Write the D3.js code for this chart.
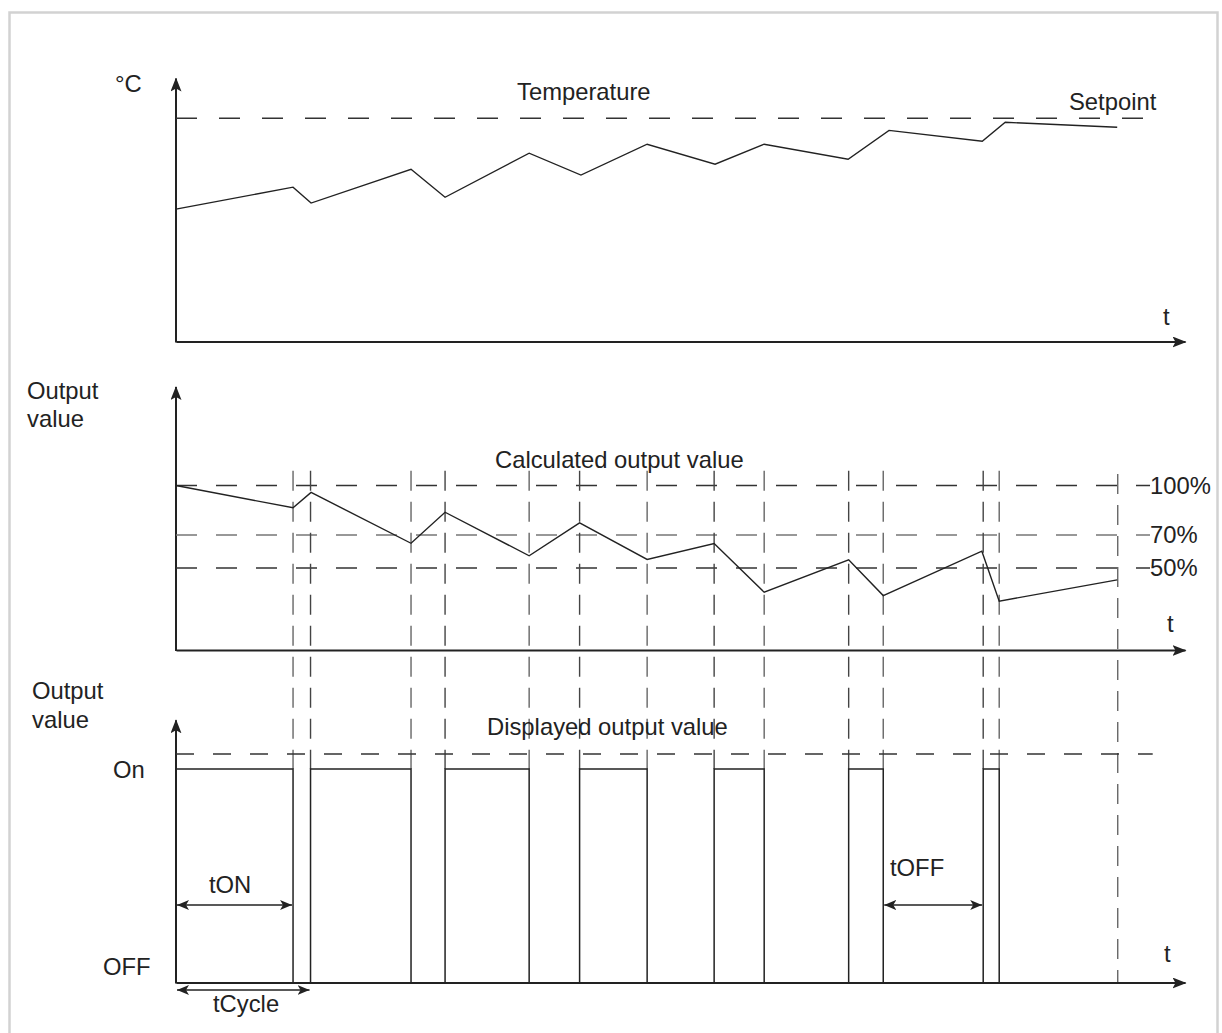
<!DOCTYPE html>
<html lang="en">
<head>
  <meta charset="UTF-8">
  <title>PWM output value</title>
  <script src="https://cdn.jsdelivr.net/npm/d3@7"></script>
  <style>
    body { margin: 0; background: #fff; }
    svg text { font-family: "Liberation Sans", Arial, sans-serif; font-size: 23.8px; fill: #222; }
    .axis .domain { stroke: #222; stroke-width: 2; }
  </style>
</head>
<body>
<svg id="chart" width="1222" height="1033"></svg>
<script>
  // time in s, one cycle = 10 s
  const onStarts = [0, 10, 20, 30, 40, 50, 60];
  const onEnds = [8.7, 17.47, 26.25, 35.02, 43.72, 52.57, 61.19];
  const endTime = 70;

  // temperature curve (°C)
  const setpoint = 25;
  const tempTimes = [0, 8.7, 10.04, 17.47, 20, 26.25, 30.1, 35.02, 40.07, 43.72, 49.96, 53.0, 59.93, 61.64, 69.96];
  const tempValues = [20.94, 21.92, 21.21, 22.72, 21.47, 23.44, 22.46, 23.84, 22.95, 23.84, 23.17, 24.46, 23.97, 24.82, 24.6];

  // calculated output value (%)
  const outTimes = [0, 8.7, 10.04, 17.47, 20, 26.25, 30, 35.02, 40, 43.72, 50, 52.57, 59.9, 61.19, 69.96];
  const outValues = [100, 86.5, 95.8, 65.0, 83.8, 57.4, 77.4, 55.2, 64.8, 35.3, 55.0, 33.3, 60.2, 29.9, 42.8];
  const levelValues = [100, 70, 50];
  const levelLabels = ["100%", "70%", "50%"];

  const svg = d3.select("#chart");
  const ink = "#222";

  // frame
  svg.append("rect")
    .attr("x", 9.5).attr("y", 12.5)
    .attr("width", 1208).attr("height", 1060)
    .attr("fill", "none").attr("stroke", "#d2d2d2").attr("stroke-width", 2.5);

  const defs = svg.append("defs");
  defs.append("marker")
    .attr("id", "axisArrow")
    .attr("markerUnits", "userSpaceOnUse")
    .attr("viewBox", "0 0 14 11")
    .attr("refX", 13).attr("refY", 5.5)
    .attr("markerWidth", 14).attr("markerHeight", 11)
    .attr("orient", "auto")
    .append("path").attr("d", "M0,0L14,5.5L0,11L3,5.5Z").attr("fill", ink);
  defs.append("marker")
    .attr("id", "dimArrow")
    .attr("markerUnits", "userSpaceOnUse")
    .attr("viewBox", "0 0 12 10")
    .attr("refX", 12).attr("refY", 5)
    .attr("markerWidth", 12).attr("markerHeight", 10)
    .attr("orient", "auto-start-reverse")
    .append("path").attr("d", "M0,0L12,5L0,10L3,5Z").attr("fill", ink);

  const x = d3.scaleLinear().domain([0, 75]).range([176, 1185]);
  const yT = d3.scaleLinear().domain([15, 26.8]).range([342, 78]);
  const yO = d3.scaleLinear().domain([0, 160]).range([650.5, 386.5]);
  const yB = d3.scaleLinear().domain([0, 1.23]).range([983, 719.8]);

  function drawAxes(yScale, y0) {
    svg.append("g").attr("class", "axis")
      .attr("transform", `translate(0,${y0})`)
      .call(d3.axisBottom(x).tickValues([]).tickSizeOuter(0))
      .select(".domain").attr("marker-end", "url(#axisArrow)");
    svg.append("g").attr("class", "axis")
      .attr("transform", `translate(${x(0) - 0.5},0)`)
      .call(d3.axisLeft(yScale).tickValues([]).tickSizeOuter(0))
      .select(".domain").attr("marker-end", "url(#axisArrow)");
  }

  function dashed(x1, x2, y1, y2, color, dash) {
    svg.append("line")
      .attr("x1", x1).attr("x2", x2).attr("y1", y1).attr("y2", y2)
      .attr("stroke", color).attr("stroke-width", 1.4)
      .attr("stroke-dasharray", dash);
  }

  function label(txt, px, py, anchor) {
    svg.append("text").attr("x", px).attr("y", py)
      .attr("text-anchor", anchor || "start").text(txt);
  }

  // ---------- temperature ----------
  drawAxes(yT, yT(15) - 0.5);
  dashed(x(0), x(73), yT(setpoint), yT(setpoint), "#333", "21,22");

  svg.append("path")
    .datum(d3.zip(tempTimes, tempValues))
    .attr("fill", "none").attr("stroke", ink).attr("stroke-width", 1.4)
    .attr("d", d3.line().x(d => x(d[0])).y(d => yT(d[1])));

  label("°C", x(0) - 61, 92);
  label("Temperature", 517, 100);
  label("Setpoint", 1069, 110);
  label("t", 1163, 325);

  // ---------- calculated output ----------
  drawAxes(yO, yO(0) - 0.5);

  levelValues.forEach((v, i) => {
    dashed(x(0), x(72.4), yO(v), yO(v), i === 1 ? "#777" : "#333", "21,19");
    label(levelLabels[i], 1150, yO(v) + 8);
  });

  // guide lines through both lower charts
  const guides = onStarts.slice(1).concat(onEnds).sort((a, b) => a - b);
  guides.forEach((t, i) => {
    dashed(x(t), x(t), yO(109), yB(1), i % 2 ? "#444" : "#666", "20,11");
  });
  dashed(x(endTime), x(endTime), yO(107), yB(0), "#666", "20,11");

  svg.append("path")
    .datum(d3.zip(outTimes, outValues))
    .attr("fill", "none").attr("stroke", ink).attr("stroke-width", 1.4)
    .attr("d", d3.line().x(d => x(d[0])).y(d => yO(d[1])));

  label("Output", 27, 399);
  label("value", 27, 427);
  label("Calculated output value", 495, 468);
  label("t", 1167, 632);

  // ---------- displayed output ----------
  drawAxes(yB, yB(0) - 0.5);
  dashed(x(0), x(72.6), yB(1.07), yB(1.07), "#333", "18,19");

  const wave = [];
  onStarts.forEach((s, i) => {
    wave.push([s, 0], [s, 1], [onEnds[i], 1], [onEnds[i], 0]);
  });
  svg.append("path")
    .datum(wave)
    .attr("fill", "none").attr("stroke", ink).attr("stroke-width", 1.5)
    .attr("d", d3.line().x(d => x(d[0])).y(d => yB(d[1])));

  label("Output", 32, 699);
  label("value", 32, 728);
  label("Displayed output value", 487, 735);
  label("On", 113, 778);
  label("OFF", 103, 975);
  label("t", 1164, 962);

  function dimension(t1, t2, py) {
    svg.append("line")
      .attr("x1", x(t1) + 1).attr("x2", x(t2) - 1).attr("y1", py).attr("y2", py)
      .attr("stroke", ink).attr("stroke-width", 1.5)
      .attr("marker-start", "url(#dimArrow)")
      .attr("marker-end", "url(#dimArrow)");
  }
  dimension(onStarts[0], onEnds[0], 905);
  label("tON", 209, 893);
  dimension(onEnds[5], onStarts[6], 905);
  label("tOFF", 890, 876);
  dimension(onStarts[0], onStarts[1], 990);
  label("tCycle", 213, 1012);
</script>
</body>
</html>
